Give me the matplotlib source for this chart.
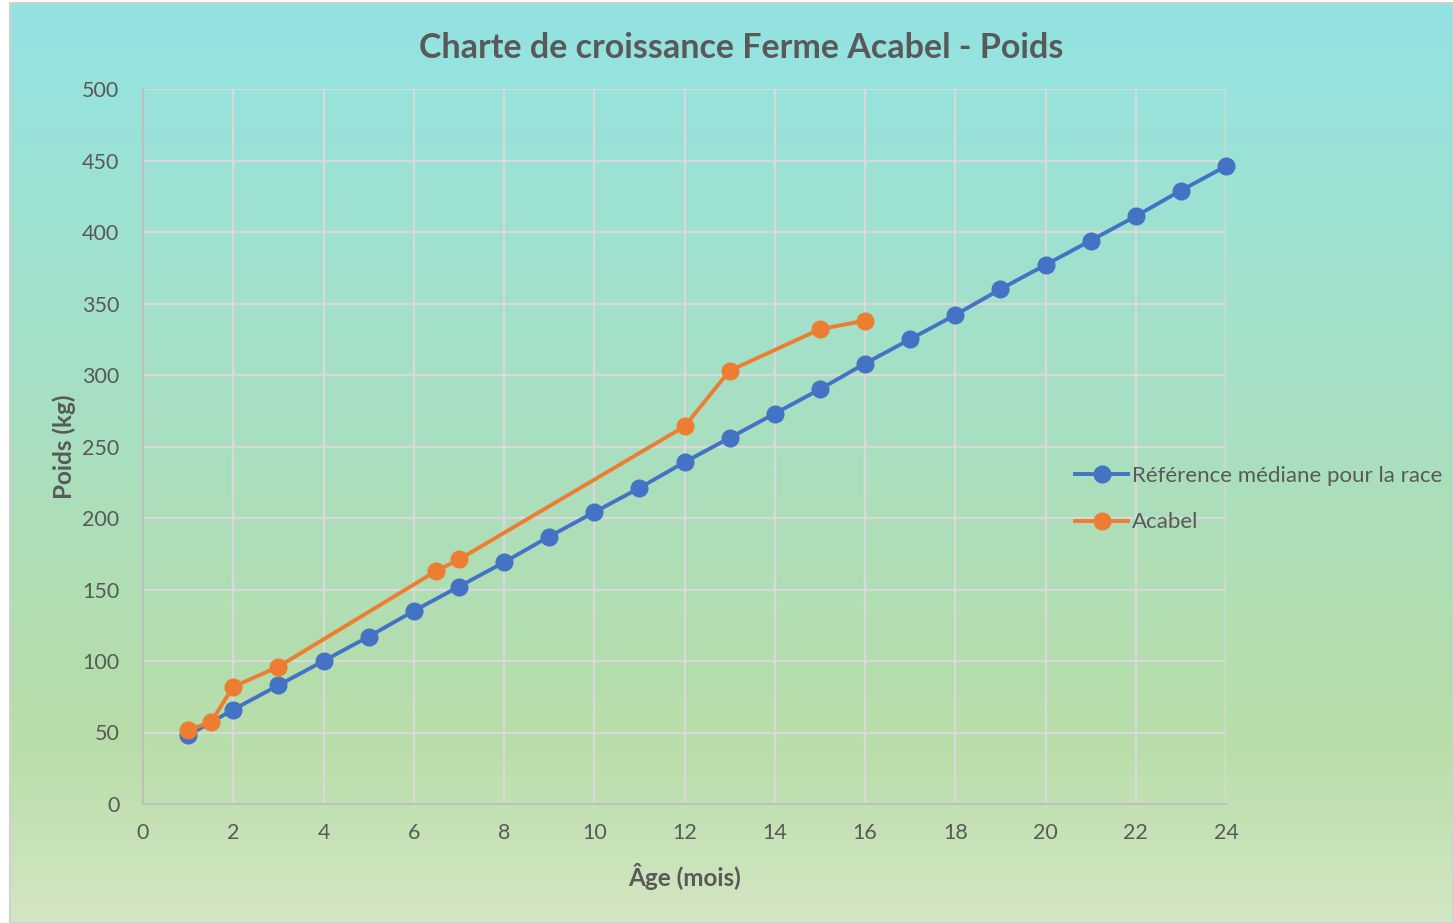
import matplotlib
matplotlib.use('Agg')
import matplotlib.pyplot as plt
import numpy as np

# reference median for the breed
ref_age = list(range(1, 25))
ref_weight = [48, 66, 83, 100, 117, 135, 152, 169, 187, 204, 221, 239,
              256, 273, 290, 308, 325, 342, 360, 377, 394, 411, 429, 446]

# Acabel farm measurements
acabel_age = [1, 1.5, 2, 3, 6.5, 7, 12, 13, 15, 16]
acabel_weight = [52, 57, 82, 96, 163, 171, 264, 303, 332, 338]

plt.rcParams['font.family'] = ['Lato', 'DejaVu Sans']
txt = '#595959'

fig = plt.figure(figsize=(14.53, 9.23), dpi=100)
fig.patch.set_facecolor('white')

# gradient background of the chart area
bg = fig.add_axes([10 / 1453, 0, 1 - 10 / 1453, 1 - 3 / 923])
top = np.array([0x93, 0xE3, 0xE3]) / 255
bot = np.array([0xD3, 0xE6, 0xC3]) / 255
mid = np.array([0xB8, 0xDD, 0xA8]) / 255
t = np.linspace(0, 1, 256)[:, None]
grad = np.where(t < 0.8, top + (mid - top) * (t / 0.8), mid + (bot - mid) * ((t - 0.8) / 0.2))
bg.imshow(grad[:, None, :], aspect='auto', extent=[0, 1, 0, 1])
bg.set_xticks([])
bg.set_yticks([])
for s in bg.spines.values():
    s.set_color('#d0d0d0')
    s.set_linewidth(1.5)

ax = fig.add_axes([143 / 1453, 1 - 804 / 923, (1226 - 143) / 1453, (804 - 89) / 923])
ax.patch.set_alpha(0)

ax.plot(ref_age, ref_weight, color='#4472C4', lw=2.8, marker='o', ms=12,
        label='Référence médiane pour la race', zorder=3, clip_on=False)
ax.plot(acabel_age, acabel_weight, color='#ED7D31', lw=2.8, marker='o', ms=12,
        label='Acabel', zorder=4, clip_on=False)

ax.set_xlim(0, 24)
ax.set_ylim(0, 500)
ax.set_xticks(range(0, 25, 2))
ax.set_yticks(range(0, 501, 50))
ax.grid(True, color='#d9d9d9', lw=1.6)
ax.set_axisbelow(True)
ax.tick_params(length=0, labelsize=15.5, colors=txt)
ax.tick_params(axis='x', pad=14)
ax.tick_params(axis='y', pad=17)
for s in ['top', 'right']:
    ax.spines[s].set_visible(False)
for s in ['left', 'bottom']:
    ax.spines[s].set_color('#bfbfbf')
    ax.spines[s].set_linewidth(1.5)

ax.set_xlabel('Âge (mois)', fontsize=17.5, fontweight='bold', color=txt, labelpad=14)
ax.set_ylabel('Poids (kg)', fontsize=17.5, fontweight='bold', color=txt, labelpad=4)
fig.text(741 / 1453, 1 - 48 / 923, 'Charte de croissance Ferme Acabel - Poids',
         ha='center', va='center', fontsize=24.5, fontweight='bold', color=txt)

leg = ax.legend(loc='center left', bbox_to_anchor=(1075 / 1453, 1 - 499 / 923),
                bbox_transform=fig.transFigure, frameon=False, fontsize=16,
                labelcolor=txt, handlelength=2.4, handletextpad=0.15,
                labelspacing=1.2, borderaxespad=0, borderpad=0)

fig.savefig('out.png', dpi=100)
